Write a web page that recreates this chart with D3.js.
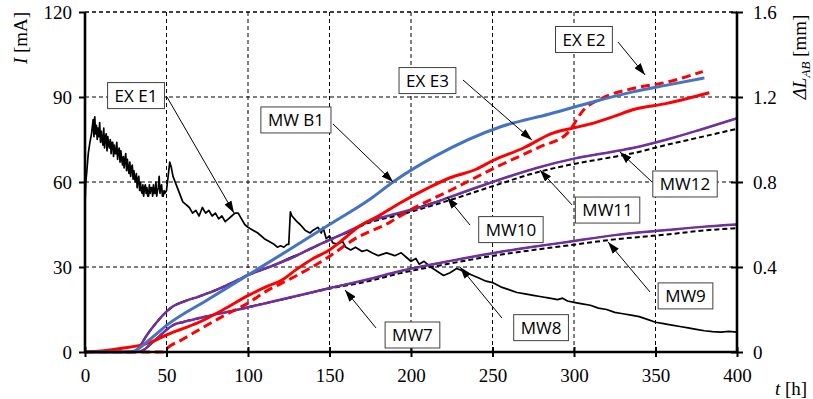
<!DOCTYPE html>
<html>
<head>
<meta charset="utf-8">
<script src="https://cdn.jsdelivr.net/npm/d3@7"></script>
<style>
  body { margin: 0; background: #fff; }
  svg { display: block; }
  .tick text { font-family: "Liberation Serif", serif; font-size: 19px; fill: #000; }
  .lbl text { font-family: "Open Sans", sans-serif; font-size: 17px; fill: #000; }
</style>
</head>
<body>
<div id="chart"></div>
<script>
// time axis (h), current axis (mA), displacement axis (mm)
const tTicks = [0, 50, 100, 150, 200, 250, 300, 350, 400];
const iTicks = [0, 30, 60, 90, 120];
const dTicks = [0, 0.4, 0.8, 1.2, 1.6];

// EX E1 : current [mA]
const exE1 = [[0,52],[0.5,60],[1,63],[2,70],[3,74],[4,77],[5,82],[5.5,76],[6,83],[6.5,77],[7,80],[7.5,75],[8,79],[8.5,76],[9,81],[9.5,74],[10,78],[10.5,75],[11,73],[11.5,79],[12,72],[12.5,76],[13,77],[13.5,71],[14,76],[14.5,73],[15,72],[15.5,75],[16,70],[16.5,74],[17,74],[17.5,69],[18,73],[18.5,70],[19,70],[19.5,74],[20,68],[20.5,71],[21,72],[21.5,67],[22,71],[22.5,68],[23,66],[23.5,69],[24,65],[24.5,68],[25,70],[25.5,64],[26,68],[26.5,65],[27,63],[27.5,67],[28,62],[28.5,65],[29,66],[29.5,61],[30,64],[30.5,61],[31,60],[31.5,63],[32,58],[32.5,61],[33,62],[33.5,57],[34,60],[34.5,57],[35,56],[35.5,59],[36,55],[36.5,58],[37,59],[37.5,56],[38,58],[38.5,55],[39,55],[39.5,59],[40,56],[40.5,58],[41,58],[41.5,55],[42,59],[42.5,56],[43,56],[43.5,60],[44,55],[44.5,57],[45,58],[45.5,62],[46,56],[46.5,58],[47,59],[47.5,55],[48,55],[48.5,57],[49,56],[50,57],[51,62],[52,67],[53,65],[54,62],[56,59],[58,56],[60,53],[62,52],[64,51],[66,49],[68,50],[70,48],[72,51],[74,49],[76,50],[78,48],[80,49],[82,47],[84,48],[86,46],[88,47],[90,48],[92,49],[94,49],[96,47],[98,45],[100,44],[103,43],[106,42],[110,40],[113,39],[116,38],[118,37],[120,37.5],[122,37],[124,38],[125,38],[126,49.5],[127,48],[130,46],[132,45],[135,43],[138,42],[140,43],[143,44],[145,42],[146,44],[148,40],[150,41],[152,38.5],[155,38],[158,39],[160,37],[163,36],[166,37],[170,35.5],[173,36],[176,35],[180,34],[185,35],[190,34],[194,35],[198,33],[200,32],[203,33],[205,31],[208,32],[212,30],[216,28.5],[220,27],[224,28],[228,29.5],[230,29],[234,28],[238,27],[242,26],[246,25],[250,24.5],[255,23],[260,22],[265,21],[270,20.5],[275,20],[280,19.5],[285,19],[290,18.5],[293,19],[296,18],[300,17.5],[305,17],[310,16.5],[315,15.5],[320,15],[325,14],[330,13.5],[335,13],[340,12.5],[345,11.5],[350,10.5],[355,10],[360,9.5],[365,9],[370,8.5],[375,8],[380,7.5],[385,7.2],[390,7],[395,7.3],[400,7]];

// displacement curves [mm]
const mwB1 = [[0,0],[28,0],[40,0.06],[50,0.125],[75,0.245],[100,0.362],[125,0.48],[150,0.6],[175,0.72],[189,0.8],[214,0.918],[255,1.06],[285,1.12],[316,1.186],[336,1.224],[357,1.256],[380,1.29]];
const exE3 = [[0,0],[10,0.005],[25,0.02],[33,0.03],[40,0.045],[50,0.08],[60,0.11],[70,0.14],[85,0.2],[100,0.265],[112,0.31],[120,0.335],[130,0.39],[140,0.44],[150,0.48],[160,0.54],[167,0.585],[180,0.64],[193,0.7],[210,0.77],[224,0.82],[240,0.86],[250,0.9],[269,0.96],[287,1.03],[300,1.055],[312,1.077],[325,1.11],[336,1.14],[357,1.17],[383,1.22]];
const exE2 = [[0,0],[48,0],[50,0.015],[60,0.06],[70,0.105],[85,0.17],[100,0.23],[112,0.29],[125,0.34],[150,0.45],[165,0.53],[187,0.61],[200,0.67],[224,0.76],[255,0.88],[279,0.965],[296,1.03],[306,1.14],[316,1.19],[336,1.24],[357,1.27],[379,1.32]];
const mw10 = [[0,0],[30,0],[33,0.02],[38,0.08],[44,0.14],[50,0.19],[54,0.215],[60,0.238],[70,0.26],[80,0.292],[90,0.322],[100,0.365],[113,0.398],[126,0.445],[138,0.482],[150,0.53],[162,0.566],[173,0.614],[193,0.652],[210,0.694],[224,0.728],[250,0.8],[277,0.866],[300,0.91],[322,0.94],[336,0.96],[357,1.0],[377,1.045],[400,1.1]];
const mw11 = [[0,0],[30,0],[33,0.02],[38,0.08],[44,0.14],[50,0.19],[54,0.215],[60,0.235],[70,0.262],[80,0.29],[90,0.325],[100,0.362],[113,0.4],[126,0.44],[138,0.485],[150,0.527],[162,0.568],[173,0.605],[193,0.645],[224,0.715],[250,0.78],[277,0.845],[300,0.885],[322,0.915],[336,0.935],[357,0.975],[377,1.01],[400,1.05]];
const mw12 = [[0,0],[30,0],[33,0.02],[38,0.08],[44,0.14],[50,0.19],[54,0.215],[60,0.235],[70,0.262],[80,0.29],[90,0.325],[100,0.362],[113,0.4],[126,0.44],[138,0.485],[150,0.527],[162,0.57],[173,0.61],[193,0.655],[210,0.69],[224,0.73],[250,0.8],[277,0.866],[300,0.91],[322,0.94],[336,0.96],[357,1.0],[377,1.045],[400,1.1]];
const mw7 = [[0,0],[32,0],[36,0.01],[40,0.035],[45,0.07],[50,0.105],[55,0.13],[60,0.142],[70,0.158],[80,0.178],[90,0.192],[100,0.212],[125,0.253],[150,0.302],[175,0.343],[193,0.38],[225,0.43],[250,0.465],[275,0.495],[296,0.518],[325,0.55],[357,0.574],[380,0.59],[400,0.6]];
const mw8 = [[0,0],[32,0],[36,0.01],[40,0.035],[45,0.07],[50,0.105],[55,0.13],[60,0.14],[70,0.16],[80,0.177],[90,0.193],[100,0.21],[125,0.255],[150,0.298],[175,0.335],[193,0.37],[225,0.418],[250,0.452],[275,0.48],[300,0.505],[325,0.53],[357,0.553],[380,0.572],[400,0.583]];
const mw9 = [[0,0],[32,0],[36,0.01],[40,0.035],[45,0.07],[50,0.105],[55,0.13],[60,0.14],[70,0.16],[80,0.177],[90,0.193],[100,0.21],[125,0.255],[150,0.3],[175,0.345],[193,0.38],[225,0.43],[250,0.465],[275,0.495],[296,0.518],[325,0.55],[357,0.574],[380,0.59],[400,0.6]];

// callouts: text, box centre, arrow tail, arrow tip (t, mA)
const callouts = [
    {text: "EX E1", c: [31.3, 90.5], from: [50.3, 90], to: [91.4, 49.1]},
    {text: "MW B1", c: [129.4, 81.9], from: [152.1, 80.5], to: [189, 60]},
    {text: "EX E3", c: [210.1, 95.8], from: [231.9, 96], to: [274.2, 74.8]},
    {text: "EX E2", c: [306.1, 110.3], from: [327, 109.4], to: [343.6, 97.8]},
    {text: "MW12", c: [368.1, 59.3], from: [347.9, 60], to: [328.2, 70.6]},
    {text: "MW11", c: [320.6, 50.1], from: [298.8, 51.9], to: [279.1, 64.2]},
    {text: "MW10", c: [261.3, 43.2], from: [236.2, 44.8], to: [222.1, 54.7]},
    {text: "MW9", c: [368.4, 19.8], from: [346.6, 21.2], to: [320.9, 38.8]},
    {text: "MW8", c: [279.8, 8.6], from: [255.8, 12], to: [230.1, 30]},
    {text: "MW7", c: [200.9, 6], from: [178.5, 8.5], to: [159.5, 21.9]}
];

const W = 813, H = 399;
const plot = {left: 85, right: 737, top: 12, bottom: 352};

const x = d3.scaleLinear().domain([0, 400]).range([plot.left, plot.right]);
const yI = d3.scaleLinear().domain([0, 120]).range([plot.bottom, plot.top]);
const yD = d3.scaleLinear().domain([0, 1.6]).range([plot.bottom, plot.top]);

const svg = d3.select("#chart").append("svg")
    .attr("width", W).attr("height", H);

svg.append("defs").append("marker")
    .attr("id", "head")
    .attr("viewBox", "0 0 12 8")
    .attr("refX", 12).attr("refY", 4)
    .attr("markerWidth", 12).attr("markerHeight", 8)
    .attr("markerUnits", "userSpaceOnUse")
    .attr("orient", "auto")
    .append("path").attr("d", "M0,0 L12,4 L0,8 Z").attr("fill", "#000");

// grid
const grid = svg.append("g").attr("stroke", "#000").attr("stroke-width", 1).attr("stroke-dasharray", "4,3");
grid.selectAll(".gh").data(iTicks.filter(d => d > 0)).enter().append("line")
    .attr("x1", plot.left).attr("x2", plot.right)
    .attr("y1", d => yI(d)).attr("y2", d => yI(d));
grid.selectAll(".gv").data(tTicks.filter(d => d > 0 && d < 400)).enter().append("line")
    .attr("x1", d => x(d)).attr("x2", d => x(d))
    .attr("y1", plot.top).attr("y2", plot.bottom);

// series
const lineI = d3.line().x(d => x(d[0])).y(d => yI(d[1]));
const lineD = d3.line().x(d => x(d[0])).y(d => yD(d[1])).curve(d3.curveMonotoneX);

function draw(data, gen, color, width, dash) {
    svg.append("path").datum(data)
        .attr("d", gen)
        .attr("fill", "none")
        .attr("stroke", color)
        .attr("stroke-width", width)
        .attr("stroke-dasharray", dash || null)
        .attr("stroke-linejoin", "round");
}

draw(exE1, lineI, "#000", 1.7);
draw(mw7, lineD, "#000", 1.5);
draw(mw8, lineD, "#000", 2, "5,3");
draw(mw9, lineD, "#7030A0", 2.5);
draw(mw10, lineD, "#000", 1.5);
draw(mw11, lineD, "#000", 2, "5,3");
draw(mw12, lineD, "#7030A0", 2.5);
draw(exE2, lineD, "#FF0000", 3, "9,5");
draw(exE3, lineD, "#FF0000", 3);
draw(mwB1, lineD, "#4472C4", 3);

// axes
const axL = svg.append("g").attr("transform", "translate(" + plot.left + ",0)")
    .call(d3.axisLeft(yI).tickValues(iTicks).tickSize(6).tickPadding(7));
const axR = svg.append("g").attr("transform", "translate(" + plot.right + ",0)")
    .call(d3.axisRight(yD).tickValues(dTicks).tickSize(6).tickPadding(10)
        .tickFormat(d => d === 0 ? "0" : d3.format(".1f")(d)));
const axB = svg.append("g").attr("transform", "translate(0," + plot.bottom + ")")
    .call(d3.axisBottom(x).tickValues(tTicks).tickSize(6).tickPadding(11));

[axL, axR, axB].forEach(a => {
    a.select(".domain").remove();
    a.selectAll(".tick line").attr("stroke-width", 2);
});
axR.selectAll(".tick line").attr("x1", -6).attr("x2", 6);
axB.selectAll(".tick line").attr("y1", -5).attr("y2", 5);

const frame = svg.append("g").attr("stroke", "#000").attr("stroke-width", 2.6);
frame.append("line").attr("x1", plot.left).attr("x2", plot.left).attr("y1", plot.top).attr("y2", plot.bottom + 1);
frame.append("line").attr("x1", plot.right).attr("x2", plot.right).attr("y1", plot.top).attr("y2", plot.bottom + 1);
frame.append("line").attr("x1", plot.left - 1).attr("x2", plot.right + 1).attr("y1", plot.bottom).attr("y2", plot.bottom);
svg.append("line").attr("x1", plot.left).attr("x2", plot.right).attr("y1", plot.top).attr("y2", plot.top)
    .attr("stroke", "#000").attr("stroke-width", 1).attr("stroke-dasharray", "4,3");

// axis titles
const serif = "Liberation Serif, serif";
const tl = svg.append("text")
    .attr("transform", "translate(27,38) rotate(-90)")
    .attr("text-anchor", "middle")
    .attr("font-family", serif).attr("font-size", 19);
tl.append("tspan").attr("font-style", "italic").text("I");
tl.append("tspan").text(" [mA]");

const tr = svg.append("text")
    .attr("transform", "translate(806,57) rotate(-90)")
    .attr("text-anchor", "middle")
    .attr("font-family", serif).attr("font-size", 19);
tr.append("tspan").attr("font-style", "italic").text("ΔL");
tr.append("tspan").attr("font-style", "italic").attr("font-size", 13).attr("dy", 4).text("AB");
tr.append("tspan").attr("dy", -4).text(" [mm]");

const tb = svg.append("text")
    .attr("x", 775).attr("y", 395)
    .attr("font-family", serif).attr("font-size", 19);
tb.append("tspan").attr("font-style", "italic").text("t");
tb.append("tspan").text(" [h]");

// callouts
callouts.forEach(c => {
    svg.append("line")
        .attr("x1", x(c.from[0])).attr("y1", yI(c.from[1]))
        .attr("x2", x(c.to[0])).attr("y2", yI(c.to[1]))
        .attr("stroke", "#000").attr("stroke-width", 1)
        .attr("marker-end", "url(#head)");
});
callouts.forEach(c => {
    const g = svg.append("g").attr("class", "lbl")
        .attr("transform", "translate(" + x(c.c[0]) + "," + yI(c.c[1]) + ")");
    const rect = g.append("rect");
    const t = g.append("text").attr("text-anchor", "middle").attr("dy", "0.36em").text(c.text);
    const w = t.node().getComputedTextLength() + 14;
    rect.attr("x", -w / 2).attr("y", -13).attr("width", w).attr("height", 26)
        .attr("fill", "#fff").attr("stroke", "#404040").attr("stroke-width", 1);
});
</script>
</body>
</html>
